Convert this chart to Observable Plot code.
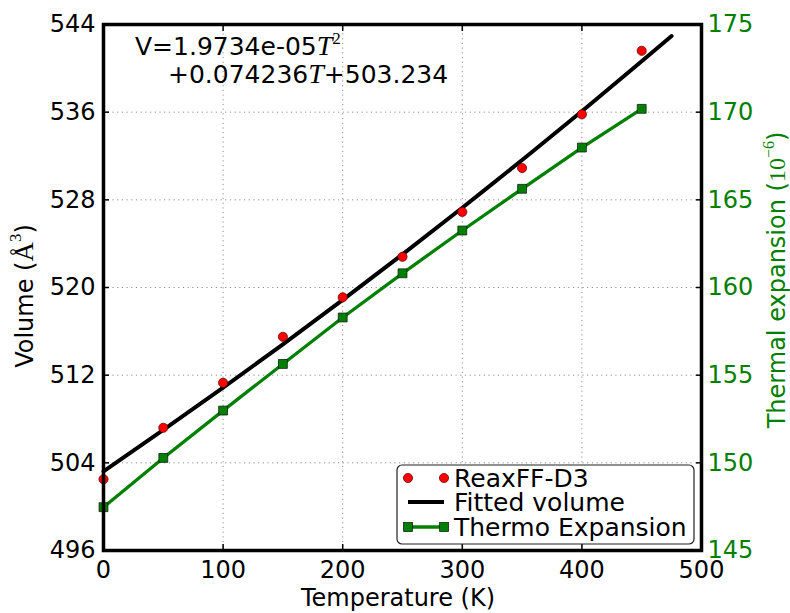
<!DOCTYPE html>
<html><head><meta charset="utf-8">
<script src="https://cdn.jsdelivr.net/npm/d3@7"></script>
<script src="https://cdn.jsdelivr.net/npm/@observablehq/plot@0.6"></script>
<style>body{margin:0;background:#fff}</style>
</head><body><div id="chart"></div>
<script>
// ---- data ----
const temperatures = [0, 50, 100, 150, 200, 250, 300, 350, 400, 450];
const volumes = [502.5, 507.2, 511.3, 515.5, 519.1, 522.8, 526.9, 530.9, 535.8, 541.6];
const thermoExpansion = [147.47, 150.28, 152.98, 155.64, 158.29, 160.81, 163.25, 165.63, 167.98, 170.19];
const fitTemperatures = [0, 50, 100, 150, 200, 250, 300, 350, 400, 450, 475];
const fitVolumes = [503.23, 507.0, 510.86, 514.81, 518.87, 523.03, 527.28, 531.63, 536.09, 540.64, 542.95];
const xTicks = [0, 100, 200, 300, 400, 500];
const yTicks = [496, 504, 512, 520, 528, 536, 544];
const y2Ticks = [145, 150, 155, 160, 165, 170, 175];
const fitTerms = ["1.9734e-05", "0.074236", "503.234"];
const legendLabels = ["ReaxFF-D3", "Fitted volume", "Thermo Expansion"];
const xLabel = "Temperature (K)";

const yDomain = [496, 544], y2Domain = [145, 175];
const y2ToY = t => yDomain[0] + (t - y2Domain[0]) * (yDomain[1] - yDomain[0]) / (y2Domain[1] - y2Domain[0]);
const yToY2 = v => y2Domain[0] + (v - yDomain[0]) * (y2Domain[1] - y2Domain[0]) / (yDomain[1] - yDomain[0]);

const volRows = temperatures.map((T, i) => ({T, V: volumes[i]}));
const thermoRows = temperatures.map((T, i) => ({T, Y: y2ToY(thermoExpansion[i])}));
const fitRows = fitTemperatures.map((T, i) => ({T, V: fitVolumes[i]}));

const green = "#008000";
const font = "DejaVu Sans";
const grid = {stroke: "#000", strokeOpacity: 0.45, strokeDasharray: "1.2,3.5", strokeWidth: 1};

const chart = Plot.plot({
  width: 790, height: 613,
  marginLeft: 103, marginRight: 89, marginTop: 24, marginBottom: 63,
  style: {fontFamily: font, fontSize: "24px", background: "white", color: "black", overflow: "visible"},
  x: {domain: [0, 500]},
  y: {domain: yDomain},
  marks: [
    Plot.gridX({ticks: xTicks.slice(1, -1), ...grid}),
    Plot.gridY({ticks: yTicks.slice(1, -1), ...grid}),
    Plot.line(fitRows, {x: "T", y: "V", stroke: "black", strokeWidth: 4, curve: "natural"}),
    Plot.line(thermoRows, {x: "T", y: "Y", stroke: green, strokeWidth: 3.3}),
    Plot.dot(thermoRows, {x: "T", y: "Y", symbol: "square", r: 5, fill: green, stroke: "#102010", strokeWidth: 0.8}),
    Plot.dot(volRows, {x: "T", y: "V", r: 4.6, fill: "red", stroke: "#500", strokeWidth: 0.7}),
    Plot.axisX({ticks: xTicks, tickSize: 0, tickPadding: 10, label: null, fontSize: 24}),
    Plot.axisX({ticks: xTicks, anchor: "bottom", tickSize: -6, tickFormat: () => "", label: null, strokeWidth: 1.5}),
    Plot.axisX({ticks: xTicks, anchor: "top", tickSize: -6, tickFormat: () => "", label: null, strokeWidth: 1.5}),
    Plot.axisY({ticks: yTicks, tickSize: 0, tickPadding: 8, label: null, fontSize: 24}),
    Plot.axisY({ticks: yTicks, anchor: "left", tickSize: -6, tickFormat: () => "", label: null, strokeWidth: 1.5}),
    Plot.axisY({ticks: y2Ticks.map(y2ToY), anchor: "right", tickSize: -6, tickFormat: () => "", label: null, strokeWidth: 1.5}),
    Plot.axisY({ticks: y2Ticks.map(y2ToY), anchor: "right", tickSize: 0, tickPadding: 6, label: null, fontSize: 24,
      fill: green, tickFormat: v => String(Math.round(yToY2(v)))}),
    Plot.frame({stroke: "black", strokeWidth: 3.5})
  ]
});
document.getElementById("chart").appendChild(chart);

const svg = d3.select(chart);
const serif = "Liberation Serif";

// equation annotation
const eq1 = svg.append("text").attr("x", 135).attr("y", 55).attr("text-anchor", "start").attr("font-size", 25).attr("font-family", font).attr("fill", "black");
eq1.append("tspan").text("V=" + fitTerms[0]);
eq1.append("tspan").attr("font-family", serif).attr("font-style", "italic").attr("font-size", 28).text("T");
eq1.append("tspan").attr("font-family", serif).attr("font-size", 17).attr("dy", -11).text("2");
const eq2 = svg.append("text").attr("x", 168).attr("y", 83).attr("text-anchor", "start").attr("font-size", 25).attr("font-family", font).attr("fill", "black");
eq2.append("tspan").text("+" + fitTerms[1]);
eq2.append("tspan").attr("font-family", serif).attr("font-style", "italic").attr("font-size", 28).text("T");
eq2.append("tspan").text("+" + fitTerms[2]);

// axis labels
svg.append("text").attr("x", 398).attr("y", 606).attr("text-anchor", "middle")
  .attr("font-size", 24).attr("font-family", font).attr("fill", "black").text(xLabel);

const yl = svg.append("text").attr("transform", "translate(33,296) rotate(-90)").attr("text-anchor", "middle")
  .attr("font-size", 24).attr("font-family", font).attr("fill", "black");
yl.append("tspan").text("Volume (");
yl.append("tspan").attr("font-family", serif).attr("font-size", 27).text("Å");
yl.append("tspan").attr("font-family", serif).attr("font-size", 17).attr("dy", -12).text("3");
yl.append("tspan").attr("dy", 12).text(")");

const y2l = svg.append("text").attr("transform", "translate(785,280) rotate(-90)").attr("text-anchor", "middle")
  .attr("font-size", 24).attr("font-family", font).attr("fill", green);
y2l.append("tspan").text("Thermal expansion (");
y2l.append("tspan").attr("font-family", serif).attr("font-size", 24).text("10");
y2l.append("tspan").attr("font-family", serif).attr("font-size", 16).attr("dy", -11).text("−6");
y2l.append("tspan").attr("dy", 11).text(")");

// legend
const lg = svg.append("g");
lg.append("rect").attr("x", 397).attr("y", 465).attr("width", 297).attr("height", 79).attr("rx", 5)
  .attr("fill", "white").attr("stroke", "#222").attr("stroke-width", 1.2);
const rowY = [478, 502, 527];
const hx1 = 408, hx2 = 444;
[hx1, hx2].forEach(cx => lg.append("circle").attr("cx", cx).attr("cy", rowY[0]).attr("r", 4.6)
  .attr("fill", "red").attr("stroke", "#500").attr("stroke-width", 0.7));
lg.append("line").attr("x1", hx1).attr("x2", hx2).attr("y1", rowY[1]).attr("y2", rowY[1]).attr("stroke", "black").attr("stroke-width", 4);
lg.append("line").attr("x1", hx1).attr("x2", hx2).attr("y1", rowY[2]).attr("y2", rowY[2]).attr("stroke", green).attr("stroke-width", 3.3);
[hx1, hx2].forEach(cx => lg.append("rect").attr("x", cx - 4.4).attr("y", rowY[2] - 4.4).attr("width", 8.8).attr("height", 8.8)
  .attr("fill", green).attr("stroke", "#102010").attr("stroke-width", 0.8));
legendLabels.forEach((t, i) => lg.append("text").attr("x", 454).attr("y", rowY[i]).attr("dy", "0.36em")
  .attr("text-anchor", "start").attr("font-size", 25).attr("font-family", font).attr("fill", "black").text(t));
</script>
</body></html>
